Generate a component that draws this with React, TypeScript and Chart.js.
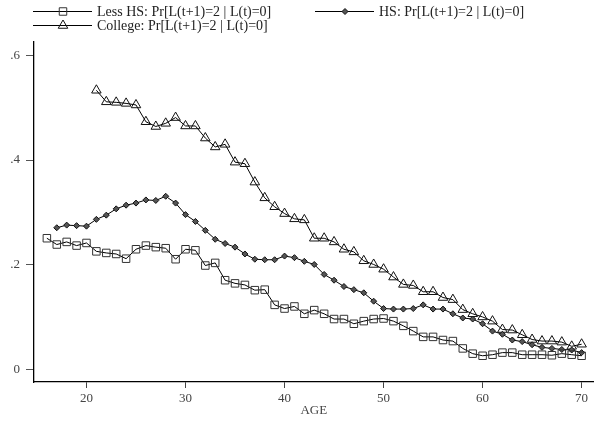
import React, { useEffect, useRef } from 'react';
import { Chart, registerables } from 'chart.js';

Chart.register(...registerables);

const lessHsAges = [16, 17, 18, 19, 20, 21, 22, 23, 24, 25, 26, 27, 28, 29, 30, 31, 32, 33, 34, 35, 36, 37, 38, 39, 40, 41, 42, 43, 44, 45, 46, 47, 48, 49, 50, 51, 52, 53, 54, 55, 56, 57, 58, 59, 60, 61, 62, 63, 64, 65, 66, 67, 68, 69, 70];
const lessHsValues = [0.251, 0.239, 0.244, 0.237, 0.242, 0.226, 0.223, 0.221, 0.212, 0.230, 0.237, 0.234, 0.232, 0.211, 0.230, 0.228, 0.199, 0.204, 0.171, 0.165, 0.162, 0.152, 0.153, 0.124, 0.117, 0.121, 0.107, 0.114, 0.107, 0.097, 0.097, 0.088, 0.093, 0.097, 0.098, 0.093, 0.084, 0.074, 0.063, 0.063, 0.057, 0.055, 0.041, 0.031, 0.027, 0.029, 0.033, 0.033, 0.029, 0.029, 0.029, 0.028, 0.031, 0.029, 0.027];

const hsAges = [17, 18, 19, 20, 21, 22, 23, 24, 25, 26, 27, 28, 29, 30, 31, 32, 33, 34, 35, 36, 37, 38, 39, 40, 41, 42, 43, 44, 45, 46, 47, 48, 49, 50, 51, 52, 53, 54, 55, 56, 57, 58, 59, 60, 61, 62, 63, 64, 65, 66, 67, 68, 69, 70];
const hsValues = [0.271, 0.276, 0.275, 0.274, 0.287, 0.295, 0.307, 0.314, 0.318, 0.324, 0.323, 0.331, 0.318, 0.296, 0.283, 0.266, 0.249, 0.241, 0.234, 0.221, 0.211, 0.210, 0.210, 0.217, 0.214, 0.207, 0.201, 0.182, 0.171, 0.159, 0.153, 0.147, 0.131, 0.117, 0.116, 0.116, 0.117, 0.124, 0.116, 0.116, 0.107, 0.099, 0.097, 0.088, 0.074, 0.068, 0.057, 0.054, 0.048, 0.043, 0.041, 0.039, 0.038, 0.033];

const collegeAges = [21, 22, 23, 24, 25, 26, 27, 28, 29, 30, 31, 32, 33, 34, 35, 36, 37, 38, 39, 40, 41, 42, 43, 44, 45, 46, 47, 48, 49, 50, 51, 52, 53, 54, 55, 56, 57, 58, 59, 60, 61, 62, 63, 64, 65, 66, 67, 68, 69, 70];
const collegeValues = [0.533, 0.511, 0.510, 0.508, 0.505, 0.473, 0.464, 0.470, 0.481, 0.465, 0.465, 0.442, 0.425, 0.430, 0.396, 0.393, 0.358, 0.328, 0.311, 0.298, 0.288, 0.286, 0.251, 0.251, 0.244, 0.230, 0.225, 0.208, 0.201, 0.192, 0.177, 0.163, 0.161, 0.149, 0.149, 0.138, 0.134, 0.115, 0.107, 0.101, 0.093, 0.077, 0.076, 0.067, 0.058, 0.055, 0.055, 0.053, 0.045, 0.049];

const seriesLabels = [
  'Less HS: Pr[L(t+1)=2 | L(t)=0]',
  'HS: Pr[L(t+1)=2 | L(t)=0]',
  'College: Pr[L(t+1)=2 | L(t)=0]',
];

const xTickValues = [20, 30, 40, 50, 60, 70];
const yTickValues = [0, 0.2, 0.4, 0.6];
const xAxisTitle = 'AGE';

const FONT = '"Liberation Serif", "DejaVu Serif", serif';

function toPoints(ages: number[], vals: number[]) {
  return ages.map((a, i) => ({ x: a, y: vals[i] }));
}

function drawMarker(ctx: CanvasRenderingContext2D, style: string, x: number, y: number, r: number, fill: string, stroke: string) {
  ctx.beginPath();
  if (style === 'rect') {
    const s = Math.SQRT1_2 * r;
    ctx.rect(x - s, y - s, 2 * s, 2 * s);
  } else if (style === 'rectRot') {
    ctx.moveTo(x, y - r);
    ctx.lineTo(x + r, y);
    ctx.lineTo(x, y + r);
    ctx.lineTo(x - r, y);
    ctx.closePath();
  } else if (style === 'triangle') {
    const a = -Math.PI / 2;
    ctx.moveTo(x + Math.cos(a) * r, y + Math.sin(a) * r);
    ctx.lineTo(x + Math.cos(a + 2 * Math.PI / 3) * r, y + Math.sin(a + 2 * Math.PI / 3) * r);
    ctx.lineTo(x + Math.cos(a + 4 * Math.PI / 3) * r, y + Math.sin(a + 4 * Math.PI / 3) * r);
    ctx.closePath();
  }
  ctx.fillStyle = fill;
  ctx.fill();
  ctx.strokeStyle = stroke;
  ctx.lineWidth = 1;
  ctx.stroke();
}

const legendPositions = [
  { x: 33, y: 11.5 },
  { x: 315, y: 11.5 },
  { x: 33, y: 25.5 },
];

const stataLegend = {
  id: 'stataLegend',
  afterDraw(chart: any) {
    const ctx: CanvasRenderingContext2D = chart.ctx;
    ctx.save();
    chart.data.datasets.forEach((ds: any, i: number) => {
      const p = legendPositions[i];
      ctx.strokeStyle = '#000';
      ctx.lineWidth = 1;
      ctx.beginPath();
      ctx.moveTo(p.x, p.y);
      ctx.lineTo(p.x + 59, p.y);
      ctx.stroke();
      drawMarker(ctx, ds.pointStyle, p.x + 30, p.y, ds.pointRadius, ds.pointBackgroundColor, ds.pointBorderColor);
      ctx.fillStyle = '#222';
      ctx.font = `14px ${FONT}`;
      ctx.textBaseline = 'middle';
      ctx.textAlign = 'left';
      ctx.fillText(ds.label, p.x + 64, p.y + 1);
    });
    ctx.restore();
  },
};

export default function App() {
  const ref = useRef<HTMLCanvasElement>(null);
  useEffect(() => {
    if (!ref.current) return;
    const chart = new Chart(ref.current, {
      type: 'line',
      data: {
        datasets: [
          {
            label: seriesLabels[0],
            data: toPoints(lessHsAges, lessHsValues),
            borderColor: '#000',
            borderWidth: 1,
            pointStyle: 'rect',
            pointRadius: 5.3,
            pointBackgroundColor: 'rgba(255,255,255,0)',
            pointBorderColor: '#333',
            pointBorderWidth: 1,
            tension: 0,
            fill: false,
          },
          {
            label: seriesLabels[1],
            data: toPoints(hsAges, hsValues),
            borderColor: '#000',
            borderWidth: 1,
            pointStyle: 'rectRot',
            pointRadius: 3,
            pointBackgroundColor: '#555',
            pointBorderColor: '#111',
            pointBorderWidth: 1,
            tension: 0,
            fill: false,
          },
          {
            label: seriesLabels[2],
            data: toPoints(collegeAges, collegeValues),
            borderColor: '#000',
            borderWidth: 1,
            pointStyle: 'triangle',
            pointRadius: 5.5,
            pointBackgroundColor: 'rgba(255,255,255,0)',
            pointBorderColor: '#111',
            pointBorderWidth: 1,
            tension: 0,
            fill: false,
          },
        ],
      },
      options: {
        animation: false,
        responsive: false,
        maintainAspectRatio: false,
        layout: { padding: { top: 42, right: 6, left: 0, bottom: 0 } },
        plugins: {
          legend: { display: false },
          tooltip: { enabled: false },
        },
        scales: {
          x: {
            type: 'linear',
            min: 14.7,
            max: 71.2,
            afterBuildTicks: (axis: any) => {
              axis.ticks = xTickValues.map((v) => ({ value: v }));
            },
            afterFit: (axis: any) => {
              axis.height = 41;
            },
            grid: {
              drawOnChartArea: false,
              drawTicks: true,
              tickLength: 6,
              color: '#444',
            },
            border: { color: '#000', width: 1.3 },
            ticks: {
              color: '#444',
              font: { family: FONT, size: 13 },
              padding: 3,
              maxRotation: 0,
              callback: (v: any) => String(v),
            },
            title: {
              display: true,
              text: xAxisTitle,
              color: '#444',
              font: { family: FONT, size: 13 },
              padding: { top: 0, bottom: 5 },
            },
          },
          y: {
            type: 'linear',
            min: -0.023,
            max: 0.625,
            afterBuildTicks: (axis: any) => {
              axis.ticks = yTickValues.map((v) => ({ value: v }));
            },
            afterFit: (axis: any) => {
              axis.width = 34;
            },
            grid: {
              drawOnChartArea: false,
              drawTicks: true,
              tickLength: 8,
              color: '#555',
            },
            border: { color: '#000', width: 1.3 },
            ticks: {
              color: '#444',
              font: { family: FONT, size: 13 },
              padding: 6,
              callback: (v: any) => (v === 0 ? '0' : String(Number(v).toFixed(1)).replace(/^0/, '')),
            },
          },
        },
      },
      plugins: [stataLegend],
    } as any);
    return () => chart.destroy();
  }, []);
  return (
    <div style={{ position: 'absolute', left: 0, top: 0, width: 600, height: 423, background: '#fff' }}>
      <canvas ref={ref} width={600} height={423} style={{ width: 600, height: 423, display: 'block' }} />
    </div>
  );
}
